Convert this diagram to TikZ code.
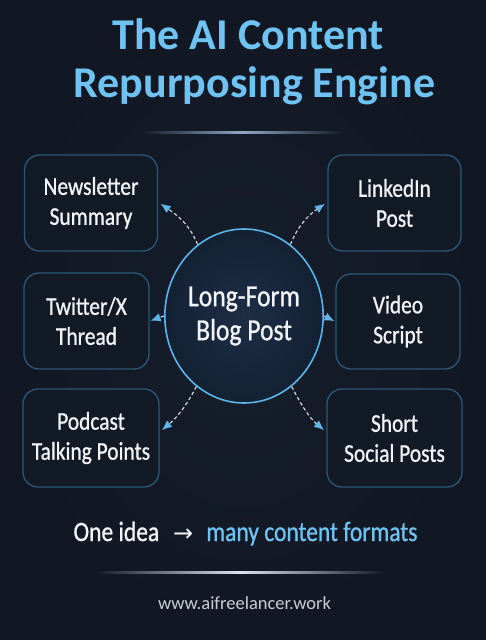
\documentclass[tikz,border=0pt]{standalone}
\usepackage{fontspec}
\setmainfont{Carlito}
\newfontfamily\cond[FakeStretch=0.84,FakeBold=0.9]{Carlito}
\newfontfamily\symf{DejaVu Sans}
\usetikzlibrary{shapes.geometric,arrows.meta}
\definecolor{bg}{HTML}{111723}
\definecolor{bgmid}{HTML}{171F2C}
\definecolor{titleb}{HTML}{6FC3F2}
\definecolor{boxline}{HTML}{2C5878}
\definecolor{boxfill}{HTML}{121A26}
\definecolor{ellb}{HTML}{5BB5EA}
\definecolor{ellin}{HTML}{1D2E45}
\definecolor{ellout}{HTML}{142135}
\definecolor{txt}{HTML}{F2F4F7}
\definecolor{dashc}{HTML}{D8DEE6}
\definecolor{arrowb}{HTML}{5CB6EC}
\definecolor{lineb}{HTML}{8FA9C4}
\definecolor{linew}{HTML}{DCE6F0}
\definecolor{urlc}{HTML}{C9CED6}
\begin{document}
\begin{tikzpicture}[x=1pt,y=1pt,
  box/.style={draw=boxline, line width=1.3pt, rounded corners=15pt, fill=boxfill,
    text=txt, align=center, inner sep=0pt, font=\cond\fontsize{25.5}{30}\selectfont},
  conn/.style={draw=dashc, line width=1.1pt, dash pattern=on 3.5pt off 2.5pt,
    -{Latex[length=10pt,width=8.5pt,color=arrowb]}}]
\useasboundingbox (0,0) rectangle (486,-640);
\fill[bg] (0,0) rectangle (486,-640);
\shade[inner color=bgmid, outer color=bg] (0,0) rectangle (486,-640);

% title
\node[anchor=base, text=titleb, font=\bfseries\fontsize{44}{44}\selectfont] (t1) at (248,-49) {The AI Content};
\node[anchor=base, text=titleb, font=\bfseries\fontsize{44}{44}\selectfont] (t2) at (254.5,-97) {Repurposing Engine};
\shade[left color=bg, right color=bg, middle color=lineb] (140,-131.2) rectangle (345,-133);

% boxes
\node[box, minimum width=133pt, minimum height=96pt] (nl) at (91,-203) {Newsletter\\Summary};
\node[box, minimum width=125pt, minimum height=96pt] (tw) at (86.5,-321) {Twitter/X\\Thread};
\node[box, minimum width=136pt, minimum height=98pt] (pc) at (91,-438) {Podcast\\Talking Points};
\node[box, minimum width=133pt, minimum height=96pt] (li) at (394.5,-203) {LinkedIn\\Post};
\node[box, minimum width=124pt, minimum height=95pt] (vs) at (398,-321.5) {Video\\Script};
\node[box, minimum width=135pt, minimum height=98pt] (sh) at (394.5,-438) {Short\\Social Posts};

% centre
\node[ellipse, draw=ellb, line width=1.6pt, inner color=ellin, outer color=ellout,
  minimum width=138pt, minimum height=174pt, inner sep=0pt, text=txt, align=center,
  font=\cond\fontsize{30.5}{34}\selectfont] (c) at (244,-316) {Long-Form\\Blog Post};

% connectors
\draw[conn, shorten >=3pt] (c.123) to[out=112,in=-35] ([yshift=1pt]nl.east);
\draw[conn, shorten >=3pt] (c.57) to[out=68,in=-145] ([yshift=1pt]li.west);
\draw[conn, shorten >=1pt] (c.west) -- (tw.east);
\draw[conn, shorten >=1pt] (c.east) -- (vs.west);
\draw[conn, shorten >=3pt] (c.236) to[out=-118,in=40] ([yshift=6pt]pc.east);
\draw[conn, shorten >=3pt] (c.304) to[out=-62,in=140] ([yshift=6pt]sh.west);

% tagline
\node[anchor=base, font=\cond\fontsize{28}{28}\selectfont] (tag) at (245.5,-541)
  {\textcolor{txt}{One idea}\hspace{14pt}{\symf\fontsize{24}{24}\selectfont\textcolor{txt}{→}}\hspace{13pt}\textcolor{titleb}{many content formats}};
\shade[left color=bg, right color=bg, middle color=linew] (95,-571.3) rectangle (385,-573);
\node[anchor=base, text=urlc, font=\fontsize{18.5}{18.5}\selectfont] (url) at (244.5,-609) {www.aifreelancer.work};
\end{tikzpicture}
\end{document}
